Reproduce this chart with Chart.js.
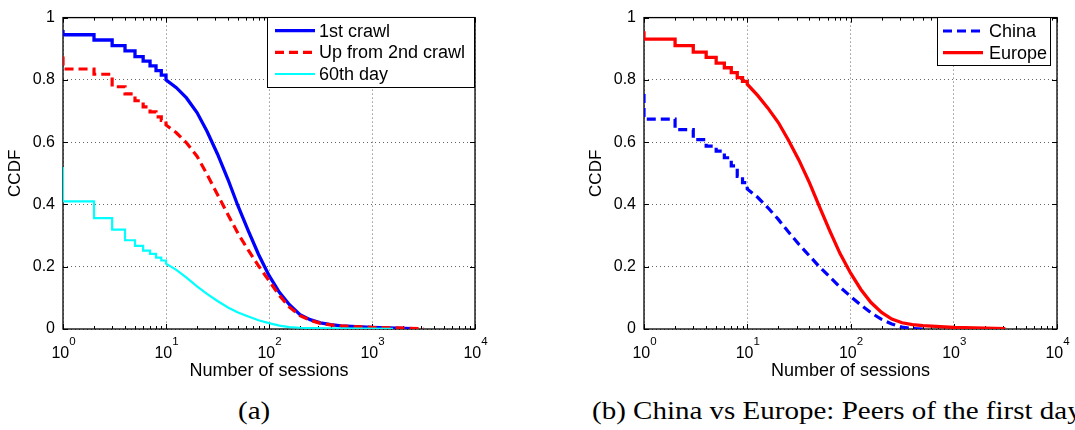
<!DOCTYPE html>
<html>
<head>
<meta charset="utf-8">
<script src="https://cdn.jsdelivr.net/npm/chart.js@4/dist/chart.umd.min.js"></script>
<style>
  html, body { margin: 0; padding: 0; background: #fff; }
  body { width: 1075px; height: 430px; overflow: hidden; position: relative; }
  canvas { position: absolute; top: 0; }
  #chartA { left: 0; }
  #chartB { left: 581px; }
  .cap {
    position: absolute; top: 398px; white-space: nowrap;
    font: 25px/25px "Liberation Serif", "Times New Roman", serif; color: #000;
    transform: scaleX(1.16); transform-origin: 0 0;
  }
</style>
</head>
<body>
<canvas id="chartA" width="540" height="390"></canvas>
<canvas id="chartB" width="494" height="390"></canvas>
<div class="cap" style="left:238px">(a)</div>
<div class="cap" style="left:592px">(b) China vs Europe: Peers of the first day</div>
<script>
// Axis ticks
const sessionTicks = [1, 10, 100, 1000, 10000];
const ccdfTicks = [0, 0.2, 0.4, 0.6, 0.8, 1];

// (a) CCDF of the number of sessions per peer (stairs up to 10 sessions, then the dense tail)
const crawl1X = [1, 1, 2, 2, 3, 3, 4, 4, 5, 5, 6, 6, 7, 7, 8, 8, 9, 9, 10, 10, 12.6, 15.8, 20, 25, 31.6, 40, 50, 63, 79, 100, 126, 158, 200, 251, 316, 398, 501, 1000, 2500];
const crawl1Y = [0.96, 0.945, 0.945, 0.928, 0.928, 0.91, 0.91, 0.893, 0.893, 0.875, 0.875, 0.86, 0.86, 0.845, 0.845, 0.83, 0.83, 0.815, 0.815, 0.80, 0.775, 0.742, 0.695, 0.635, 0.562, 0.48, 0.395, 0.315, 0.24, 0.172, 0.118, 0.078, 0.046, 0.03, 0.02, 0.014, 0.01, 0.005, 0.001];

const laterX = [1, 1, 2, 2, 3, 3, 4, 4, 5, 5, 6, 6, 7, 7, 8, 8, 9, 9, 10, 10, 12.6, 15.8, 20, 25, 31.6, 40, 50, 63, 79, 100, 126, 158, 200, 251, 316, 398, 501, 1000, 1580, 3200];
const laterY = [0.875, 0.835, 0.835, 0.818, 0.818, 0.778, 0.778, 0.755, 0.755, 0.733, 0.733, 0.713, 0.713, 0.697, 0.697, 0.681, 0.681, 0.67, 0.67, 0.655, 0.63, 0.598, 0.555, 0.497, 0.432, 0.367, 0.307, 0.253, 0.203, 0.155, 0.108, 0.07, 0.043, 0.028, 0.018, 0.013, 0.01, 0.005, 0.004, 0.001];

const day60X = [1, 1, 2, 2, 3, 3, 4, 4, 5, 5, 6, 6, 7, 7, 8, 8, 9, 9, 10, 10, 12.6, 15.8, 20, 25, 31.6, 40, 50, 63, 79, 100, 126, 158, 200, 398, 1600];
const day60Y = [0.52, 0.41, 0.41, 0.356, 0.356, 0.319, 0.319, 0.285, 0.285, 0.267, 0.267, 0.252, 0.252, 0.241, 0.241, 0.229, 0.229, 0.22, 0.22, 0.21, 0.19, 0.165, 0.137, 0.113, 0.09, 0.069, 0.053, 0.04, 0.028, 0.019, 0.011, 0.006, 0.004, 0.002, 0.0005];

// (b) peers of the first day, by region
const chinaX = [1, 1, 2, 2, 3, 3, 4, 4, 5, 5, 6, 6, 7, 7, 8, 8, 9, 9, 10, 10, 12.6, 15.8, 20, 25, 31.6, 40, 50, 63, 79, 100, 126, 158, 200, 251, 316, 398, 501];
const chinaY = [0.755, 0.674, 0.674, 0.64, 0.64, 0.608, 0.608, 0.587, 0.587, 0.571, 0.571, 0.55, 0.55, 0.524, 0.524, 0.49, 0.49, 0.47, 0.47, 0.45, 0.423, 0.39, 0.352, 0.312, 0.272, 0.235, 0.2, 0.167, 0.135, 0.105, 0.077, 0.052, 0.031, 0.016, 0.006, 0.0015, 0];

const europeX = [1, 1, 2, 2, 3, 3, 4, 4, 5, 5, 6, 6, 7, 7, 8, 8, 9, 9, 10, 10, 12.6, 15.8, 20, 25, 31.6, 40, 50, 63, 79, 100, 126, 158, 200, 251, 316, 398, 501, 1000, 3160];
const europeY = [0.956, 0.931, 0.931, 0.91, 0.91, 0.889, 0.889, 0.872, 0.872, 0.854, 0.854, 0.839, 0.839, 0.823, 0.823, 0.807, 0.807, 0.795, 0.795, 0.786, 0.75, 0.71, 0.663, 0.607, 0.543, 0.47, 0.393, 0.315, 0.243, 0.18, 0.127, 0.085, 0.053, 0.032, 0.02, 0.014, 0.011, 0.005, 0.001];

const SANS = '"Liberation Sans", Arial, Helvetica, sans-serif';
Chart.defaults.font.family = SANS;
Chart.defaults.color = '#000';

// Axes box, inward tick marks and 10^n labels
const frame = {
  id: 'frame',
  beforeDatasetsDraw(chart) {
    const { ctx, chartArea: a, scales: { x, y } } = chart;
    ctx.save();
    ctx.strokeStyle = '#000';
    ctx.lineWidth = 1;
    ctx.beginPath();
    x.ticks.forEach(t => {
      const px = Math.round(x.getPixelForValue(t.value)) + 0.5;
      ctx.moveTo(px, a.bottom); ctx.lineTo(px, a.bottom - 5);
      ctx.moveTo(px, a.top); ctx.lineTo(px, a.top + 5);
    });
    for (let d = 1; d < 10000; d *= 10) {
      for (let m = 2; m <= 9; m++) {
        const px = Math.round(x.getPixelForValue(d * m)) + 0.5;
        ctx.moveTo(px, a.bottom); ctx.lineTo(px, a.bottom - 3);
        ctx.moveTo(px, a.top); ctx.lineTo(px, a.top + 3);
      }
    }
    y.ticks.forEach(t => {
      const py = Math.round(y.getPixelForValue(t.value)) + 0.5;
      ctx.moveTo(a.left, py); ctx.lineTo(a.left + 5, py);
      ctx.moveTo(a.right, py); ctx.lineTo(a.right - 5, py);
    });
    ctx.stroke();
    ctx.lineWidth = 1.3;
    ctx.strokeRect(a.left, a.top, a.right - a.left, a.bottom - a.top);
    ctx.restore();
  },
  afterDraw(chart) {
    const { ctx, chartArea: a, scales: { x } } = chart;
    ctx.save();
    ctx.fillStyle = '#000';
    ctx.textAlign = 'left';
    ctx.textBaseline = 'alphabetic';
    const base = '16px ' + SANS, sup = '11.5px ' + SANS;
    x.ticks.forEach(t => {
      const e = String(Math.round(Math.log10(t.value)));
      const px = x.getPixelForValue(t.value);
      ctx.font = base; const w1 = ctx.measureText('10').width;
      ctx.font = sup; const w2 = ctx.measureText(e).width;
      const x0 = px - (w1 + w2) / 2 + 0.5;
      ctx.font = base; ctx.fillText('10', x0, a.bottom + 29);
      ctx.font = sup; ctx.fillText(e, x0 + w1, a.bottom + 16);
    });
    ctx.restore();
  }
};

// Legend box drawn inside the plot area
const boxLegend = {
  id: 'boxLegend',
  afterDatasetsDraw(chart, args, o) {
    const ctx = chart.ctx;
    ctx.save();
    ctx.fillStyle = '#fff';
    ctx.fillRect(o.left, o.top, o.width, o.height);
    ctx.strokeStyle = '#000';
    ctx.lineWidth = 1;
    ctx.strokeRect(o.left + 0.5, o.top + 0.5, o.width, o.height);
    chart.data.datasets.forEach((d, i) => {
      const yy = o.rowY[i];
      ctx.strokeStyle = d.borderColor;
      ctx.lineWidth = d.borderWidth;
      ctx.setLineDash(d.borderDash || []);
      ctx.beginPath();
      ctx.moveTo(o.lineX0, yy); ctx.lineTo(o.lineX1, yy);
      ctx.stroke();
      ctx.setLineDash([]);
      ctx.fillStyle = '#000';
      ctx.font = '18px ' + SANS;
      ctx.textAlign = 'left';
      ctx.textBaseline = 'middle';
      ctx.fillText(d.label, o.textX, yy + 1);
    });
    ctx.restore();
  }
};

const gridStyle = { color: 'rgba(0,0,0,0.6)', lineWidth: 1, drawTicks: false, tickLength: 0 };
const borderStyle = { display: false, dash: [1, 3] };

function makeChart(canvas, plotRight, series, legendBox) {
  return new Chart(canvas, {
    type: 'line',
    data: {
      datasets: series.map((s, i) => ({
        label: s.label,
        data: s.xs.map((v, k) => ({ x: v, y: s.ys[k] })),
        borderColor: s.color,
        borderWidth: s.width,
        borderDash: s.dash,
        borderCapStyle: 'butt',
        pointRadius: 0,
        tension: 0,
        fill: false,
        order: series.length - i
      }))
    },
    options: {
      responsive: false,
      animation: false,
      devicePixelRatio: 1,
      events: [],
      layout: { padding: { top: 12, right: canvas.width - plotRight, bottom: 0, left: 0 } },
      plugins: {
        legend: { display: false },
        tooltip: { enabled: false },
        boxLegend: legendBox
      },
      scales: {
        x: {
          type: 'logarithmic',
          min: 1, max: 10000,
          afterBuildTicks: s => { s.ticks = sessionTicks.map(v => ({ value: v })); },
          afterFit: s => { s.height = canvas.height - 329; },
          ticks: { display: false },
          grid: gridStyle,
          border: borderStyle,
          title: { display: true, text: 'Number of sessions', color: '#000', font: { size: 18 }, padding: { top: 0, bottom: 8 } }
        },
        y: {
          min: 0, max: 1,
          afterBuildTicks: s => { s.ticks = ccdfTicks.map(v => ({ value: v })); },
          afterFit: s => { s.width = 63; },
          ticks: {
            color: '#000', font: { size: 16 }, padding: 8,
            callback: v => (v === 0 || v === 1) ? String(v) : v.toFixed(1)
          },
          grid: gridStyle,
          border: borderStyle,
          title: { display: true, text: 'CCDF', color: '#000', font: { size: 17 }, padding: { top: 5, bottom: 0 } }
        }
      }
    },
    plugins: [frame, boxLegend]
  });
}

makeChart(document.getElementById('chartA'), 475, [
  { label: '1st crawl', xs: crawl1X, ys: crawl1Y, color: '#0000ff', width: 3.3, dash: [] },
  { label: 'Up from 2nd crawl', xs: laterX, ys: laterY, color: '#ff0000', width: 3.2, dash: [9, 5] },
  { label: '60th day', xs: day60X, ys: day60Y, color: '#00ffff', width: 2.2, dash: [] }
], { left: 267, top: 17, width: 207, height: 70, lineX0: 275, lineX1: 315, textX: 319, rowY: [30.7, 52.3, 74] });

makeChart(document.getElementById('chartB'), 476, [
  { label: 'China', xs: chinaX, ys: chinaY, color: '#0000ff', width: 3.2, dash: [9, 5] },
  { label: 'Europe', xs: europeX, ys: europeY, color: '#ff0000', width: 3.3, dash: [] }
], { left: 356, top: 17, width: 113, height: 48, lineX0: 362, lineX1: 402, textX: 408, rowY: [31, 52.7] });
</script>
</body>
</html>
